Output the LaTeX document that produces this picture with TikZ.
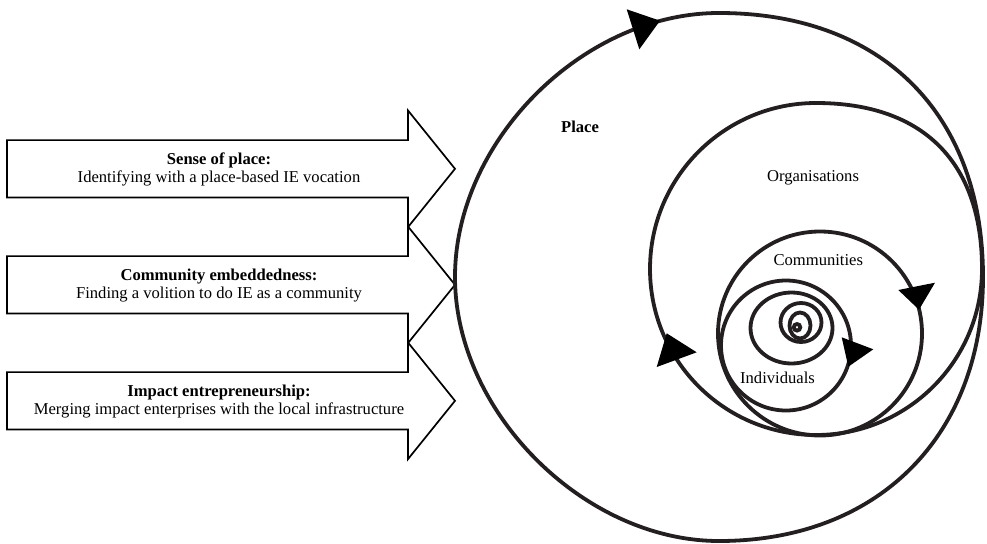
\documentclass[tikz,border=0pt]{standalone}
\usepackage{fontspec}
\setmainfont{Liberation Serif}
\definecolor{ink}{RGB}{35,31,32}
\tikzset{
  spiralline/.style={draw=ink, line width=3.8pt},
  tiphead/.style={fill=black, draw=none},
  bigarrow/.style={draw=black, line width=1.7pt, line join=miter, fill=white},
  lbl/.style={font=\fontsize{16.6}{19}\selectfont, inner sep=0pt, anchor=base},
  blbl/.style={font=\fontsize{16.6}{19}\selectfont\bfseries, inner sep=0pt, anchor=base},
}
\begin{document}
\begin{tikzpicture}[x=1pt,y=-1pt]
\useasboundingbox (0,0) rectangle (987,543);

% ---- left block arrows ----
\foreach \c in {168.8,284.8,400.8}{
  \draw[bigarrow] (7,\c-28.7) -- (408,\c-28.7) -- (408,\c-58.3) -- (455,\c)
     -- (408,\c+58.3) -- (408,\c+28.7) -- (7,\c+28.7) -- cycle;
}
\node[blbl] (t1) at (219,164.0) {Sense of place:};
\node[lbl]  (s1) at (219,182.7) {Identifying with a place-based IE vocation};
\node[blbl] (t2) at (219,280.0) {Community embeddedness:};
\node[lbl]  (s2) at (219,298.5) {Finding a volition to do IE as a community};
\node[blbl] (t3) at (219,396.0) {Impact entrepreneurship:};
\node[lbl]  (s3) at (219,414.8) {Merging impact enterprises with the local infrastructure};

% ---- spiral ----
% Place loop
\draw[spiralline] (719,13) .. controls (882,13) and (983,114) .. (983,277)
  .. controls (983,436) and (878,541) .. (719,541)
  .. controls (584,541) and (455,412) .. (455,277)
  .. controls (455,141) and (583,13) .. (719,13) -- cycle;
% Organisations loop
\draw[spiralline] (816,103) .. controls (923,103) and (982,162) .. (982,269)
  .. controls (982,360.7) and (907.7,435) .. (816,435)
  .. controls (724.3,435) and (650,360.7) .. (650,269)
  .. controls (650,177.3) and (724.3,103) .. (816,103) -- cycle;
% Communities loop
\draw[spiralline] (820,333.5) circle[radius=102pt];
% Individuals loop
\draw[spiralline] (786,345.5) circle[radius=65pt];
% inner loops
\draw[spiralline] (791.5,328) ellipse[x radius=41pt, y radius=35.5pt];
\draw[spiralline] (801,322.5) ellipse[x radius=20.5pt, y radius=19.5pt];
\draw[spiralline] (800,325.5) ellipse[x radius=10.5pt, y radius=13pt];
\draw[spiralline] (797,327.3) circle[radius=3.3pt];

% arrowheads on the spiral
\fill[tiphead] (626.7,9.3) -- (660,20.7) -- (639.3,49.3) -- cycle;
\fill[tiphead] (898.3,290) -- (935,282.7) -- (919,309.7) -- cycle;
\fill[tiphead] (841.7,337.3) -- (873.3,349.3) -- (848.3,366.7) -- cycle;
\fill[tiphead] (666.7,333.3) -- (696.7,352.3) -- (656.7,367) -- cycle;

% labels
\node[blbl] (place) at (580,132) {Place};
\node[lbl] (org) at (813,181.5) {Organisations};
\node[lbl] (comm) at (818.3,265) {Communities};
\node[lbl] (ind) at (777.5,383.3) {Individuals};
\end{tikzpicture}
\end{document}
